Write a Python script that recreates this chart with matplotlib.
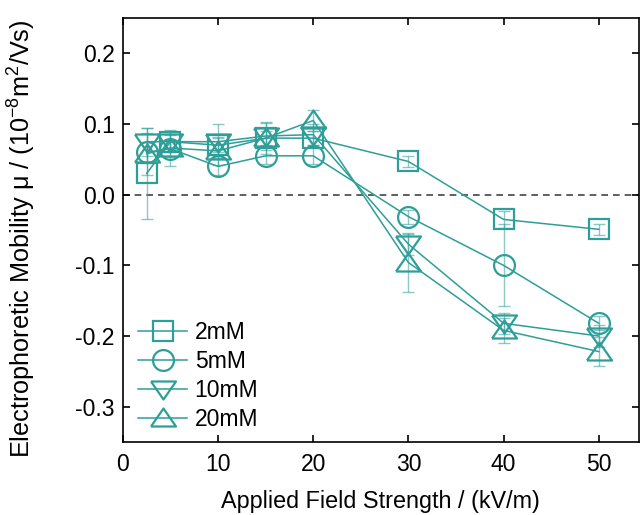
import matplotlib
matplotlib.use("Agg")
import matplotlib.pyplot as plt
import numpy as np

plt.rcParams['font.family'] = ['Liberation Sans', 'DejaVu Sans']

field = [2.5, 5, 10, 15, 20, 30, 40, 50]
labels = ["2mM", "5mM", "10mM", "20mM"]
mob_2mM = [0.030, 0.075, 0.070, 0.080, 0.080, 0.047, -0.035, -0.049]
mob_5mM = [0.060, 0.065, 0.040, 0.055, 0.055, -0.031, -0.100, -0.182]
mob_10mM = [0.075, 0.075, 0.075, 0.083, 0.085, -0.070, -0.182, -0.200]
mob_20mM = [0.058, 0.066, 0.062, 0.080, 0.105, -0.096, -0.192, -0.222]
err_2mM = [0.065, 0.010, 0.010, 0.010, 0.010, 0.008, 0.012, 0.008]
err_5mM = [0.015, 0.012, 0.012, 0.012, 0.012, 0.010, 0.058, 0.010]
err_10mM = [0.020, 0.015, 0.025, 0.020, 0.015, 0.015, 0.015, 0.015]
err_20mM = [0.030, 0.025, 0.020, 0.022, 0.015, 0.042, 0.018, 0.020]

color = '#2e9e98'

fig = plt.figure(figsize=(6.4, 5.15), dpi=100)
ax = fig.add_axes([0.192, 0.1417, 0.806, 0.8233])

tri_up = [(-1.25, -0.8), (1.25, -0.8), (0, 1.0), (-1.25, -0.8)]
tri_dn = [(-1.25, 0.8), (1.25, 0.8), (0, -1.0), (-1.25, 0.8)]

series = [
    (mob_2mM, err_2mM, 's', 14),
    (mob_5mM, err_5mM, 'o', 15),
    (mob_10mM, err_10mM, tri_dn, 18),
    (mob_20mM, err_20mM, tri_up, 18),
]

ax.axhline(0, color='#444444', lw=1.2, ls=(0, (4, 3)), zorder=1)

for (y, e, m, ms), lab in zip(series, labels):
    ax.errorbar(field, y, yerr=e, fmt='none', ecolor=color, alpha=0.55,
                elinewidth=1.0, capsize=4, capthick=1.0, zorder=2)
    ax.plot(field, y, color=color, lw=1.1, marker=m, ms=ms, mfc='none',
            mec=color, mew=1.6, label=lab, zorder=3)

ax.set_xlim(0, 54.2)
ax.set_ylim(-0.35, 0.25)
ax.set_xticks([0, 10, 20, 30, 40, 50])
ax.set_yticks([-0.3, -0.2, -0.1, 0.0, 0.1, 0.2])
ax.set_yticklabels(['-0.3', '-0.2', '-0.1', '0.0', '0.1', '0.2'])
ax.tick_params(direction='in', length=5, width=1.2, labelsize=16.5, top=True,
               right=True)
ax.tick_params(axis='y', pad=6)
ax.tick_params(axis='x', pad=8)
for s in ax.spines.values():
    s.set_linewidth(1.2)

ax.set_xlabel('Applied Field Strength / (kV/m)', fontsize=16.8, labelpad=10)
ax.set_ylabel(r'Electrophoretic Mobility μ / (10$^{\mathregular{-8}}$m$^{\mathregular{2}}$/Vs)',
              fontsize=18.2)
ax.yaxis.set_label_coords(-0.165, 0.48)

leg = ax.legend(loc='lower left', bbox_to_anchor=(0.008, 0.0), frameon=False,
                fontsize=16.5, handlelength=2.1, labelspacing=0.25,
                handletextpad=0.35, borderaxespad=0.1)

fig.savefig('out.png', dpi=100)
